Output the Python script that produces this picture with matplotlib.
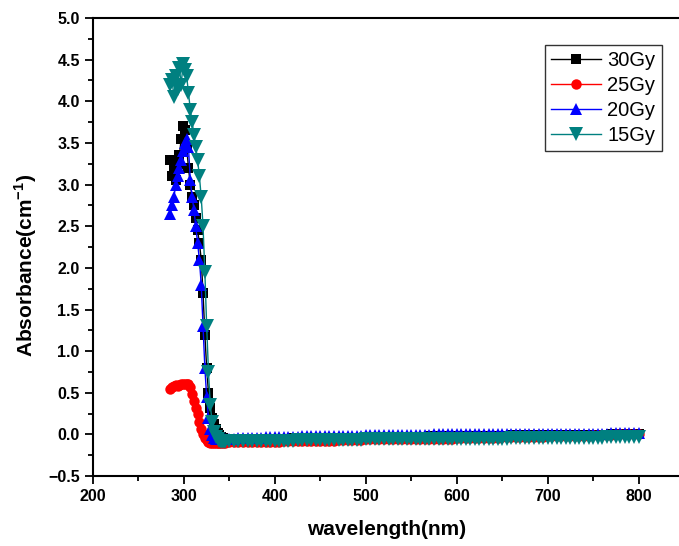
import numpy as np
import matplotlib
matplotlib.use("Agg")
import matplotlib.pyplot as plt
from matplotlib.ticker import MultipleLocator

plt.rcParams['font.family'] = ['Liberation Sans', 'DejaVu Sans']
plt.rcParams['mathtext.fontset'] = 'custom'
plt.rcParams['mathtext.rm'] = 'Liberation Sans'
plt.rcParams['mathtext.bf'] = 'Liberation Sans:bold'

# wavelength grid: 2 nm steps over the absorption edge, 5 nm on the flat part
wl_edge = np.arange(285, 346, 2)
wl_flat = np.arange(350, 801, 5)
wavelength = np.concatenate([wl_edge, wl_flat])

labels = ['30Gy', '25Gy', '20Gy', '15Gy']

gy30_edge = [3.30, 3.10, 3.20, 3.05, 3.25, 3.35, 3.55, 3.70, 3.65, 3.45,
             3.20, 3.00, 2.85, 2.75, 2.60, 2.45, 2.30, 2.10, 1.70, 1.20,
             0.80, 0.50, 0.32, 0.20, 0.12, 0.06, 0.02, -0.01, -0.03, -0.04,
             -0.05]
gy30_flat = [-0.05, -0.05, -0.05, -0.05, -0.05, -0.05, -0.05, -0.05, -0.05, -0.05,
             -0.05, -0.05, -0.05, -0.05, -0.04, -0.04, -0.04, -0.04, -0.04, -0.04,
             -0.04, -0.04, -0.04, -0.04, -0.04, -0.04, -0.04, -0.04, -0.04, -0.04,
             -0.03, -0.03, -0.03, -0.03, -0.03, -0.03, -0.03, -0.03, -0.03, -0.03,
             -0.03, -0.03, -0.03, -0.03, -0.02, -0.02, -0.02, -0.02, -0.02, -0.02,
             -0.02, -0.02, -0.02, -0.02, -0.02, -0.02, -0.02, -0.02, -0.02, -0.02,
             -0.02, -0.02, -0.01, -0.01, -0.01, -0.01, -0.01, -0.01, -0.01, -0.01,
             -0.01, -0.01, -0.01, -0.01, -0.01, -0.01, -0.01, -0.01, -0.01, -0.01,
             -0.01, -0.01, -0.01, -0.01, 0.00, 0.00, 0.00, 0.00, 0.00, 0.00,
             0.00]

gy25_edge = [0.55, 0.57, 0.58, 0.59, 0.58, 0.59, 0.60, 0.60, 0.60, 0.60,
             0.60, 0.57, 0.48, 0.40, 0.32, 0.24, 0.15, 0.07, 0.01, -0.04,
             -0.07, -0.09, -0.10, -0.10, -0.10, -0.10, -0.10, -0.10, -0.10, -0.10,
             -0.10]
gy25_flat = [-0.09, -0.09, -0.09, -0.09, -0.09, -0.09, -0.09, -0.09, -0.09, -0.09,
             -0.09, -0.09, -0.08, -0.08, -0.08, -0.08, -0.08, -0.08, -0.08, -0.08,
             -0.08, -0.08, -0.08, -0.08, -0.07, -0.07, -0.07, -0.07, -0.07, -0.07,
             -0.06, -0.06, -0.06, -0.06, -0.06, -0.06, -0.06, -0.06, -0.06, -0.06,
             -0.05, -0.05, -0.05, -0.05, -0.05, -0.05, -0.05, -0.05, -0.05, -0.05,
             -0.04, -0.04, -0.04, -0.04, -0.04, -0.04, -0.04, -0.04, -0.04, -0.04,
             -0.03, -0.03, -0.03, -0.03, -0.03, -0.03, -0.03, -0.03, -0.03, -0.03,
             -0.02, -0.02, -0.02, -0.02, -0.02, -0.02, -0.02, -0.02, -0.02, -0.02,
             -0.01, -0.01, -0.01, -0.01, -0.01, 0.00, 0.00, 0.00, 0.00, 0.00,
             0.01]

gy20_edge = [2.65, 2.75, 2.85, 3.00, 3.10, 3.20, 3.30, 3.40, 3.50, 3.55,
             3.45, 3.05, 2.85, 2.70, 2.50, 2.30, 2.10, 1.80, 1.30, 0.80,
             0.45, 0.20, 0.06, -0.01, -0.04, -0.05, -0.05, -0.05, -0.05, -0.05,
             -0.05]
gy20_flat = [-0.05, -0.05, -0.04, -0.04, -0.04, -0.04, -0.04, -0.04, -0.03, -0.03,
             -0.03, -0.03, -0.03, -0.03, -0.03, -0.03, -0.02, -0.02, -0.02, -0.02,
             -0.02, -0.02, -0.02, -0.02, -0.02, -0.02, -0.02, -0.02, -0.02, -0.02,
             -0.01, -0.01, -0.01, -0.01, -0.01, -0.01, -0.01, -0.01, -0.01, -0.01,
             -0.01, -0.01, -0.01, -0.01, -0.01, 0.00, 0.00, 0.00, 0.00, 0.00,
             0.00, 0.00, 0.00, 0.00, 0.00, 0.00, 0.00, 0.00, 0.00, 0.00,
             0.00, 0.00, 0.00, 0.01, 0.01, 0.01, 0.01, 0.01, 0.01, 0.01,
             0.01, 0.01, 0.01, 0.01, 0.01, 0.01, 0.01, 0.01, 0.01, 0.01,
             0.01, 0.01, 0.01, 0.01, 0.02, 0.02, 0.02, 0.02, 0.02, 0.02,
             0.02]

gy15_edge = [4.20, 4.25, 4.05, 4.30, 4.15, 4.40, 4.20, 4.45, 4.38, 4.30,
             4.10, 3.90, 3.75, 3.60, 3.45, 3.30, 3.10, 2.85, 2.50, 1.95,
             1.30, 0.75, 0.35, 0.15, 0.03, -0.03, -0.06, -0.08, -0.09, -0.09,
             -0.09]
gy15_flat = [-0.08, -0.08, -0.08, -0.08, -0.08, -0.08, -0.08, -0.08, -0.08, -0.08,
             -0.08, -0.08, -0.08, -0.08, -0.08, -0.07, -0.07, -0.07, -0.07, -0.07,
             -0.07, -0.07, -0.07, -0.07, -0.07, -0.07, -0.07, -0.07, -0.07, -0.07,
             -0.06, -0.06, -0.06, -0.06, -0.06, -0.06, -0.06, -0.06, -0.06, -0.06,
             -0.06, -0.06, -0.06, -0.06, -0.06, -0.05, -0.05, -0.05, -0.05, -0.05,
             -0.05, -0.05, -0.05, -0.05, -0.05, -0.05, -0.05, -0.05, -0.05, -0.05,
             -0.05, -0.05, -0.04, -0.04, -0.04, -0.04, -0.04, -0.04, -0.04, -0.04,
             -0.04, -0.04, -0.04, -0.04, -0.04, -0.04, -0.04, -0.04, -0.04, -0.04,
             -0.04, -0.04, -0.04, -0.03, -0.03, -0.03, -0.03, -0.03, -0.03, -0.03,
             -0.03]

series = [gy30_edge + gy30_flat, gy25_edge + gy25_flat,
          gy20_edge + gy20_flat, gy15_edge + gy15_flat]
colors = ['black', 'red', 'blue', '#008080']
markers = ['s', 'o', '^', 'v']
msizes = [6.5, 7.5, 9, 9.5]

fig = plt.figure(figsize=(6.79, 5.46), dpi=100)
ax = fig.add_axes([0.137, 0.128, 0.865, 0.839])

for y, lab, c, m, ms in zip(series, labels, colors, markers, msizes):
    ax.plot(wavelength, y, color=c, marker=m, markersize=ms, lw=1,
            markeredgewidth=0, label=lab)

ax.set_xlim(200, 846)
ax.set_ylim(-0.5, 5.0)
ax.xaxis.set_major_locator(MultipleLocator(100))
ax.xaxis.set_minor_locator(MultipleLocator(50))
ax.yaxis.set_major_locator(MultipleLocator(0.5))
ax.yaxis.set_minor_locator(MultipleLocator(0.25))
ax.tick_params(which='both', direction='out', top=False, right=False, width=1.3)
ax.tick_params(which='major', length=6, labelsize=11.5)
ax.tick_params(which='minor', length=3.5)
for lab in ax.get_xticklabels() + ax.get_yticklabels():
    lab.set_fontweight('bold')
for s in ax.spines.values():
    s.set_linewidth(1.5)

ax.set_xlabel('wavelength(nm)', fontsize=15, fontweight='bold', labelpad=11)
ax.set_ylabel(r'Absorbance(cm$^{\mathbf{-1}}$)', fontsize=15, fontweight='bold')
ax.yaxis.set_label_coords(-0.092, 0.46)

leg = ax.legend(loc='upper right', bbox_to_anchor=(0.968, 0.941), borderaxespad=0,
                fancybox=False, frameon=True, fontsize=14.5, handlelength=2.5,
                handletextpad=0.3, labelspacing=0.3, borderpad=0.3)
leg.get_frame().set_edgecolor('black')
leg.get_frame().set_linewidth(1.0)

fig.savefig('out.png', dpi=100)
